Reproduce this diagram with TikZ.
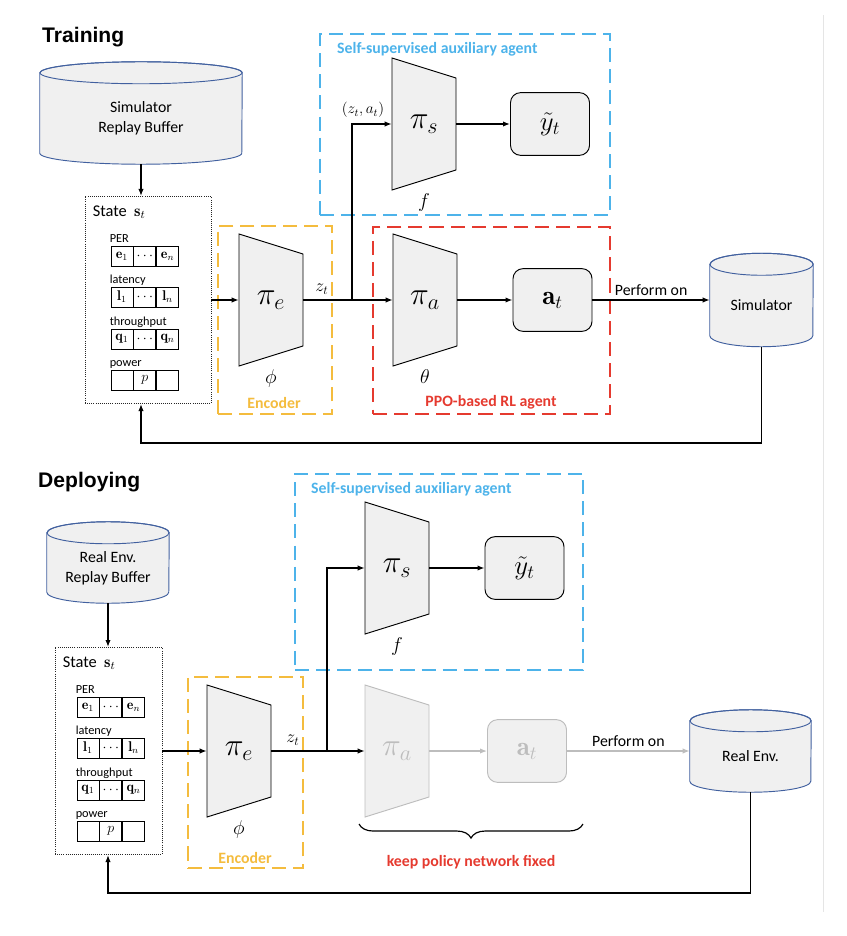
\documentclass[tikz,border=0pt]{standalone}
\usepackage{fix-cm}
\usepackage{fontspec}
\newfontfamily\calfont{Carlito}
\newfontfamily\arialfont{Liberation Sans}
\usetikzlibrary{positioning,arrows.meta,decorations.pathreplacing}

\definecolor{auxblue}{HTML}{4DB3EA}
\definecolor{encyellow}{HTML}{F4BC3E}
\definecolor{rlred}{HTML}{E53A2F}
\definecolor{netgray}{HTML}{F0F0F0}
\definecolor{cylblue}{HTML}{41609F}
\definecolor{fixgray}{HTML}{BDBDBD}

\tikzset{
  sechead/.style={font=\arialfont\bfseries\fontsize{18}{20}\selectfont, inner sep=0pt},
  grpbox/.style={line width=1.8pt, dash pattern=on 12pt off 6pt, inner sep=0pt},
  grplbl/.style={font=\calfont\bfseries\fontsize{13.5}{15}\selectfont, inner sep=0pt},
  lbl/.style={font=\calfont\fontsize{13.5}{15}\selectfont, inner sep=0pt, text=black},
  statebox/.style={draw=black!85, densely dotted, line width=0.8pt, minimum height=6.21cm, inner sep=0pt},
  statetitle/.style={font=\calfont\fontsize{14}{15}\selectfont, inner sep=0pt},
  rowlbl/.style={font=\calfont\fontsize{10.5}{12}\selectfont, inner sep=0pt},
  cell/.style={draw, line width=0.7pt, minimum width=0.66cm, minimum height=0.6cm, inner sep=0pt, font=\fontsize{12}{13}\selectfont},
  trap/.style={draw, fill=netgray, line width=0.8pt},
  traplbl/.style={minimum width=1.92cm, minimum height=3.96cm, inner sep=0pt, font=\fontsize{27}{29}\selectfont},
  outbox/.style={draw, fill=netgray, rounded corners=0.3cm, line width=0.8pt, minimum width=2.37cm, minimum height=1.88cm, font=\fontsize{23}{25}\selectfont},
  param/.style={inner sep=0pt, font=\fontsize{17}{18}\selectfont},
  zlbl/.style={inner sep=0pt, font=\fontsize{15}{16}\selectfont},
  cyl/.style={draw=cylblue, fill=netgray, line width=0.8pt},
  cyltext/.style={font=\calfont\fontsize{13.5}{17}\selectfont, align=center, inner sep=0pt},
  conn/.style={line width=1pt, -{Latex[length=6pt,width=4.5pt]}},
  link/.style={line width=1pt},
  brace/.style={line width=1pt, decorate, decoration={brace, mirror, amplitude=12pt}}
}

\newcommand{\cylry}{0.33cm}
% cylinder: name, x, y, half width, height, text
\newcommand{\cylnode}[6]{%
  \node[minimum width=2*#4, minimum height=#5, inner sep=0pt] (#1-box) at (#2,#3) {};
  \draw[cyl] ([yshift=-\cylry]#1-box.north west) -- ([yshift=\cylry]#1-box.south west)
    arc[start angle=180, end angle=360, x radius=#4, y radius=\cylry]
    -- ([yshift=-\cylry]#1-box.north east)
    arc[start angle=0, end angle=180, x radius=#4, y radius=\cylry] -- cycle;
  \draw[cyl, fill=none] ([yshift=-\cylry]#1-box.north) ellipse[x radius=#4, y radius=\cylry];
  \node[cyltext] (#1) at ([yshift=-0.5*\cylry]#1-box.center) {#6};
}
% network block: name, x, y, label, outline style, label style
\newcommand{\netblock}[6]{%
  \draw[trap,#5] (#2-32,#3-66) -- (#2+32,#3-46) -- (#2+32,#3+46) -- (#2-32,#3+66) -- cycle;
  \node[traplbl,#6] (#1) at (#2,#3) {#4};
}
% one row of the state: name, left point, label, three cells
\newcommand{\staterow}[6]{%
  \node[cell, anchor=west] (#1-a) at (#2) {#4};
  \node[cell, right=0pt of #1-a] (#1-b) {#5};
  \node[cell, right=0pt of #1-b] (#1-c) {#6};
  \node[rowlbl, anchor=base west] (#1-l) at ([shift={(-1,-3)}]#1-a.north west) {#3};
}
% state panel: name, x, y, width, cell offset
\newcommand{\statepanel}[5]{%
  \node[statebox, minimum width=#4] (#1) at (#2,#3) {};
  \node[statetitle, anchor=base west] (#1-title) at ([shift={(8,20)}]#1.north west) {State~~$\mathbf{s}_t$};
  \staterow{#1-per}{[shift={(#5,60)}]#1.north west}{PER}{$\mathbf{e}_1$}{$\cdots$}{$\mathbf{e}_n$}
  \staterow{#1-lat}{[shift={(#5,101)}]#1.north west}{latency}{$\mathbf{l}_1$}{$\cdots$}{$\mathbf{l}_n$}
  \staterow{#1-thr}{[shift={(#5,143)}]#1.north west}{throughput}{$\mathbf{q}_1$}{$\cdots$}{$\mathbf{q}_n$}
  \staterow{#1-pow}{[shift={(#5,184)}]#1.north west}{power}{}{$p$}{}
}

\begin{document}
\begin{tikzpicture}[x=0.03cm, y=-0.03cm]
\useasboundingbox (0,0) rectangle (846,936);
\draw[black!10, line width=0.6pt] (823,15) -- (823,912);

% training
\node[sechead, anchor=base west] (train) at (42,43) {Training};
\node[grpbox, draw=auxblue, minimum width=8.7cm, minimum height=5.43cm] (aux1) at (465,124.5) {};
\node[grpbox, draw=rlred, minimum width=7.11cm, minimum height=5.61cm] (rl1) at (491.5,320.5) {};
\node[grpbox, draw=encyellow, minimum width=3.42cm, minimum height=5.64cm] (enc1) at (275,320) {};
\node[grplbl, text=auxblue, anchor=west] (auxlbl1) at (337,49) {Self-supervised auxiliary agent};
\node[grplbl, text=rlred] (rllbl1) at (491,402) {PPO-based RL agent};
\node[grplbl, text=encyellow] (enclbl1) at (274,403) {Encoder};

\cylnode{simbuf}{141}{113}{3.03cm}{3.06cm}{Simulator\\Replay Buffer}
\cylnode{sim}{761.5}{300}{1.545cm}{2.79cm}{Simulator}
\statepanel{state1}{148}{300}{3.78cm}{26}

\netblock{pie1}{271}{300}{$\pi_e$}{}{}
\netblock{pia1}{425}{300}{$\pi_a$}{}{}
\netblock{pis1}{424}{124}{$\pi_s$}{}{}
\node[param, below=3pt of pie1] (phi1) {$\phi$};
\node[param, below=3pt of pia1] (theta1) {$\theta$};
\node[param, below=3pt of pis1] (f1) {$f$};
\node[outbox] (yt1) at (550,124) {$\tilde{y}_t$};
\node[outbox] (at1) at (552.5,300) {$\mathbf{a}_t$};
\coordinate (split1) at (352,300);
\node[zlbl] (zt1) at (322,289) {$z_t$};
\node[zlbl, font=\fontsize{13}{14}\selectfont] (zat1) at (363,110) {$(z_t, a_t)$};

\draw[conn] (simbuf-box.south) -- (simbuf-box.south |- state1.north);
\draw[conn] (state1.east) -- (pie1.west);
\draw[link] (pie1.east) -- (split1);
\draw[conn] (split1) -- (pia1.west);
\draw[conn] (split1) |- (pis1.west);
\draw[conn] (pis1.east) -- (yt1.west);
\draw[conn] (pia1.east) -- (at1.west);
\draw[conn] (at1.east) -- node[lbl, above=3pt] (perf1) {Perform on} (sim-box.west);
\coordinate (fb1) at (141,443);
\draw[conn] (sim-box.south) |- (fb1) -- (fb1 |- state1.south);

% deploying
\node[sechead, anchor=base west] (deploy) at (38,487) {Deploying};
\node[grpbox, draw=auxblue, minimum width=8.64cm, minimum height=5.88cm] (aux2) at (439,572) {};
\node[grpbox, draw=encyellow, minimum width=3.45cm, minimum height=5.73cm] (enc2) at (245.5,772.5) {};
\node[grplbl, text=auxblue, anchor=west] (auxlbl2) at (311,489) {Self-supervised auxiliary agent};
\node[grplbl, text=encyellow] (enclbl2) at (245,858) {Encoder};
\node[grplbl, text=rlred] (fixlbl) at (471,862) {keep policy network fixed};

\cylnode{realbuf}{108}{562.5}{1.83cm}{2.43cm}{Real Env.\\Replay Buffer}
\cylnode{realenv}{750.5}{751}{1.815cm}{2.46cm}{Real Env.}
\statepanel{state2}{108.5}{751}{3.21cm}{22}

\netblock{pie2}{239}{751}{$\pi_e$}{}{}
\netblock{pia2}{397}{751}{$\pi_a$}{draw=fixgray}{text=fixgray}
\netblock{pis2}{397}{568}{$\pi_s$}{}{}
\node[param, below=3pt of pie2] (phi2) {$\phi$};
\node[param, below=3pt of pis2] (f2) {$f$};
\node[outbox] (yt2) at (524.5,568) {$\tilde{y}_t$};
\node[outbox, draw=fixgray, text=fixgray] (at2) at (527,751) {$\mathbf{a}_t$};
\coordinate (split2) at (327,751);
\node[zlbl] (zt2) at (293,740) {$z_t$};

\draw[conn] (realbuf-box.south) -- (realbuf-box.south |- state2.north);
\draw[conn] (state2.east) -- (pie2.west);
\draw[link] (pie2.east) -- (split2);
\draw[conn] (split2) -- (pia2.west);
\draw[conn] (split2) |- (pis2.west);
\draw[conn] (pis2.east) -- (yt2.west);
\draw[conn, fixgray] (pia2.east) -- (at2.west);
\draw[conn, fixgray] (at2.east) -- node[lbl, above=3pt] (perf2) {Perform on} (realenv-box.west);
\coordinate (fb2) at (108,893);
\draw[conn] (realenv-box.south) |- (fb2) -- (fb2 |- state2.south);

\coordinate (brl) at (359,824);
\coordinate (brr) at (583,824);
\draw[brace] (brl) -- (brr);

\end{tikzpicture}
\end{document}
